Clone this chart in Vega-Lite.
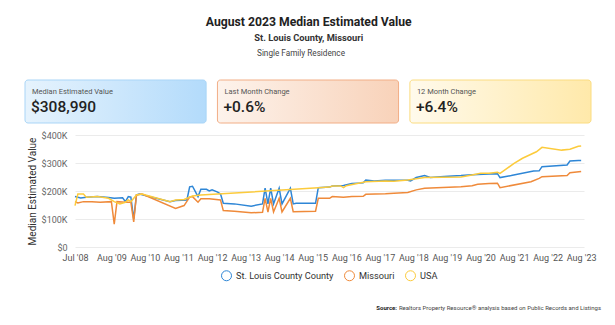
{
  "$schema": "https://vega.github.io/schema/vega-lite/v6.json",
  "background": "white",
  "padding": {"left": 24, "top": 15, "right": 8, "bottom": 4},
  "title": {
    "text": "August 2023 Median Estimated Value",
    "subtitle": "St. Louis County, Missouri",
    "fontSize": 12.2, "fontWeight": "bold", "color": "#222",
    "subtitleFontSize": 9.3, "subtitleFontWeight": "bold", "subtitleColor": "#333",
    "subtitlePadding": 6, "offset": 6, "anchor": "middle", "dx": -4
  },
  "columns": 1,
  "align": "none",
  "spacing": 7,
  "resolve": {"legend": {"color": "independent"}},
  "config": {
    "font": "Roboto",
    "view": {"stroke": null},
    "legend": {"layout": {"bottom": {"anchor": "middle"}}}
  },
  "concat": [
    {
      "width": 509, "height": 43,
      "title": {"text": "Single Family Residence", "fontSize": 8.2, "fontWeight": "normal", "color": "#444", "offset": 21, "anchor": "middle", "frame": "bounds", "dx": -7},
      "data": {"values": [
        {"card": "Median Estimated Value", "value": "$308,990"},
        {"card": "Last Month Change", "value": "+0.6%"},
        {"card": "12 Month Change", "value": "+6.4%"}
      ]},
      "encoding": {
        "x": {"field": "card", "type": "nominal", "axis": null,
              "scale": {"domain": ["Median Estimated Value", "Last Month Change", "12 Month Change"], "range": [-50, 516], "paddingInner": 0.0588, "paddingOuter": 0}}
      },
      "layer": [
        {"transform": [{"filter": "datum.card == 'Median Estimated Value'"}],
         "mark": {"type": "rect", "cornerRadius": 3, "stroke": "#a9d5f7", "strokeWidth": 1,
                  "fill": {"gradient": "linear", "x1": 0, "y1": 0, "x2": 1, "y2": 0,
                           "stops": [{"offset": 0, "color": "#e6f3fd"}, {"offset": 1, "color": "#b3dbfb"}]}}},
        {"transform": [{"filter": "datum.card == 'Last Month Change'"}],
         "mark": {"type": "rect", "cornerRadius": 3, "stroke": "#f2ae86", "strokeWidth": 1,
                  "fill": {"gradient": "linear", "x1": 0, "y1": 0, "x2": 1, "y2": 0,
                           "stops": [{"offset": 0, "color": "#fdf3ec"}, {"offset": 1, "color": "#f8d2b9"}]}}},
        {"transform": [{"filter": "datum.card == '12 Month Change'"}],
         "mark": {"type": "rect", "cornerRadius": 3, "stroke": "#fbdc80", "strokeWidth": 1,
                  "fill": {"gradient": "linear", "x1": 0, "y1": 0, "x2": 1, "y2": 0,
                           "stops": [{"offset": 0, "color": "#fffaec"}, {"offset": 1, "color": "#ffe9aa"}]}}},
        {"mark": {"type": "text", "align": "left", "baseline": "middle", "dx": 7, "dy": -9.5, "fontSize": 7.5, "color": "#555"},
         "encoding": {"x": {"field": "card", "type": "nominal", "bandPosition": 0}, "text": {"field": "card"}}},
        {"mark": {"type": "text", "align": "left", "baseline": "middle", "dx": 6, "dy": 5, "fontSize": 15.5, "fontWeight": 500, "color": "#222"},
         "encoding": {"x": {"field": "card", "type": "nominal", "bandPosition": 0}, "text": {"field": "value"}}}
      ]
    },
    {
      "width": 509, "height": 112,
      "data": {"values": [
        {"series": "St. Louis County County", "date": "2008/07/01", "value": 180000},
        {"series": "St. Louis County County", "date": "2008/09/01", "value": 175000},
        {"series": "St. Louis County County", "date": "2008/11/01", "value": 178000},
        {"series": "St. Louis County County", "date": "2009/03/01", "value": 180000},
        {"series": "St. Louis County County", "date": "2009/07/01", "value": 177000},
        {"series": "St. Louis County County", "date": "2009/09/01", "value": 174000},
        {"series": "St. Louis County County", "date": "2009/12/01", "value": 176000},
        {"series": "St. Louis County County", "date": "2010/01/01", "value": 162000},
        {"series": "St. Louis County County", "date": "2010/02/01", "value": 180000},
        {"series": "St. Louis County County", "date": "2010/03/01", "value": 178000},
        {"series": "St. Louis County County", "date": "2010/04/01", "value": 100000},
        {"series": "St. Louis County County", "date": "2010/05/01", "value": 186000},
        {"series": "St. Louis County County", "date": "2010/06/01", "value": 189000},
        {"series": "St. Louis County County", "date": "2011/05/01", "value": 162000},
        {"series": "St. Louis County County", "date": "2011/07/01", "value": 166000},
        {"series": "St. Louis County County", "date": "2011/11/01", "value": 168000},
        {"series": "St. Louis County County", "date": "2011/12/01", "value": 215000},
        {"series": "St. Louis County County", "date": "2012/01/01", "value": 217000},
        {"series": "St. Louis County County", "date": "2012/03/01", "value": 180000},
        {"series": "St. Louis County County", "date": "2012/04/01", "value": 206000},
        {"series": "St. Louis County County", "date": "2012/06/01", "value": 206000},
        {"series": "St. Louis County County", "date": "2012/07/01", "value": 200000},
        {"series": "St. Louis County County", "date": "2012/08/01", "value": 204000},
        {"series": "St. Louis County County", "date": "2012/10/01", "value": 196000},
        {"series": "St. Louis County County", "date": "2012/11/01", "value": 189000},
        {"series": "St. Louis County County", "date": "2012/12/01", "value": 156000},
        {"series": "St. Louis County County", "date": "2013/04/01", "value": 154000},
        {"series": "St. Louis County County", "date": "2013/10/01", "value": 146000},
        {"series": "St. Louis County County", "date": "2014/02/01", "value": 154000},
        {"series": "St. Louis County County", "date": "2014/03/01", "value": 210000},
        {"series": "St. Louis County County", "date": "2014/04/01", "value": 154000},
        {"series": "St. Louis County County", "date": "2014/05/01", "value": 210000},
        {"series": "St. Louis County County", "date": "2014/06/01", "value": 154000},
        {"series": "St. Louis County County", "date": "2014/08/01", "value": 210000},
        {"series": "St. Louis County County", "date": "2014/09/01", "value": 154000},
        {"series": "St. Louis County County", "date": "2014/12/01", "value": 210000},
        {"series": "St. Louis County County", "date": "2015/01/01", "value": 154000},
        {"series": "St. Louis County County", "date": "2015/02/01", "value": 156000},
        {"series": "St. Louis County County", "date": "2015/09/01", "value": 156000},
        {"series": "St. Louis County County", "date": "2015/10/01", "value": 212000},
        {"series": "St. Louis County County", "date": "2016/02/01", "value": 214000},
        {"series": "St. Louis County County", "date": "2016/03/01", "value": 218000},
        {"series": "St. Louis County County", "date": "2016/07/01", "value": 220000},
        {"series": "St. Louis County County", "date": "2016/10/01", "value": 227000},
        {"series": "St. Louis County County", "date": "2017/02/01", "value": 229000},
        {"series": "St. Louis County County", "date": "2017/03/01", "value": 239000},
        {"series": "St. Louis County County", "date": "2017/06/01", "value": 236000},
        {"series": "St. Louis County County", "date": "2017/10/01", "value": 238000},
        {"series": "St. Louis County County", "date": "2018/01/01", "value": 238000},
        {"series": "St. Louis County County", "date": "2018/06/01", "value": 238000},
        {"series": "St. Louis County County", "date": "2018/07/01", "value": 236000},
        {"series": "St. Louis County County", "date": "2018/09/01", "value": 248000},
        {"series": "St. Louis County County", "date": "2018/12/01", "value": 255000},
        {"series": "St. Louis County County", "date": "2019/02/01", "value": 248000},
        {"series": "St. Louis County County", "date": "2019/07/01", "value": 252000},
        {"series": "St. Louis County County", "date": "2020/01/01", "value": 255000},
        {"series": "St. Louis County County", "date": "2020/05/01", "value": 258000},
        {"series": "St. Louis County County", "date": "2020/11/01", "value": 261000},
        {"series": "St. Louis County County", "date": "2021/02/01", "value": 262000},
        {"series": "St. Louis County County", "date": "2021/03/01", "value": 248000},
        {"series": "St. Louis County County", "date": "2021/07/01", "value": 255000},
        {"series": "St. Louis County County", "date": "2022/03/01", "value": 271000},
        {"series": "St. Louis County County", "date": "2022/05/01", "value": 272000},
        {"series": "St. Louis County County", "date": "2022/06/01", "value": 287000},
        {"series": "St. Louis County County", "date": "2023/03/01", "value": 293000},
        {"series": "St. Louis County County", "date": "2023/04/01", "value": 307000},
        {"series": "St. Louis County County", "date": "2023/07/01", "value": 309000},
        {"series": "St. Louis County County", "date": "2023/08/01", "value": 308990},

        {"series": "Missouri", "date": "2008/07/01", "value": 162000},
        {"series": "Missouri", "date": "2008/08/01", "value": 157000},
        {"series": "Missouri", "date": "2008/10/01", "value": 162000},
        {"series": "Missouri", "date": "2009/01/01", "value": 162000},
        {"series": "Missouri", "date": "2009/04/01", "value": 160000},
        {"series": "Missouri", "date": "2009/08/01", "value": 162000},
        {"series": "Missouri", "date": "2009/09/01", "value": 82000},
        {"series": "Missouri", "date": "2009/10/01", "value": 162000},
        {"series": "Missouri", "date": "2010/01/01", "value": 160000},
        {"series": "Missouri", "date": "2010/03/01", "value": 160000},
        {"series": "Missouri", "date": "2010/04/01", "value": 90000},
        {"series": "Missouri", "date": "2010/05/01", "value": 186000},
        {"series": "Missouri", "date": "2010/07/01", "value": 189000},
        {"series": "Missouri", "date": "2011/07/01", "value": 138000},
        {"series": "Missouri", "date": "2011/10/01", "value": 148000},
        {"series": "Missouri", "date": "2011/12/01", "value": 178000},
        {"series": "Missouri", "date": "2012/01/01", "value": 180000},
        {"series": "Missouri", "date": "2012/03/01", "value": 160000},
        {"series": "Missouri", "date": "2012/04/01", "value": 172000},
        {"series": "Missouri", "date": "2012/07/01", "value": 172000},
        {"series": "Missouri", "date": "2012/11/01", "value": 168000},
        {"series": "Missouri", "date": "2012/12/01", "value": 130000},
        {"series": "Missouri", "date": "2013/04/01", "value": 128000},
        {"series": "Missouri", "date": "2013/10/01", "value": 122000},
        {"series": "Missouri", "date": "2014/02/01", "value": 124000},
        {"series": "Missouri", "date": "2014/03/01", "value": 174000},
        {"series": "Missouri", "date": "2014/04/01", "value": 125000},
        {"series": "Missouri", "date": "2014/05/01", "value": 174000},
        {"series": "Missouri", "date": "2014/06/01", "value": 125000},
        {"series": "Missouri", "date": "2014/08/01", "value": 174000},
        {"series": "Missouri", "date": "2014/09/01", "value": 125000},
        {"series": "Missouri", "date": "2014/12/01", "value": 174000},
        {"series": "Missouri", "date": "2015/01/01", "value": 126000},
        {"series": "Missouri", "date": "2015/09/01", "value": 128000},
        {"series": "Missouri", "date": "2015/10/01", "value": 174000},
        {"series": "Missouri", "date": "2016/02/01", "value": 174000},
        {"series": "Missouri", "date": "2016/03/01", "value": 180000},
        {"series": "Missouri", "date": "2016/07/01", "value": 178000},
        {"series": "Missouri", "date": "2016/10/01", "value": 180000},
        {"series": "Missouri", "date": "2017/02/01", "value": 181000},
        {"series": "Missouri", "date": "2017/03/01", "value": 188000},
        {"series": "Missouri", "date": "2017/10/01", "value": 190000},
        {"series": "Missouri", "date": "2018/01/01", "value": 192000},
        {"series": "Missouri", "date": "2018/06/01", "value": 195000},
        {"series": "Missouri", "date": "2018/09/01", "value": 204000},
        {"series": "Missouri", "date": "2018/12/01", "value": 210000},
        {"series": "Missouri", "date": "2020/01/01", "value": 215000},
        {"series": "Missouri", "date": "2020/05/01", "value": 219000},
        {"series": "Missouri", "date": "2020/07/01", "value": 224000},
        {"series": "Missouri", "date": "2020/11/01", "value": 227000},
        {"series": "Missouri", "date": "2021/02/01", "value": 228000},
        {"series": "Missouri", "date": "2021/03/01", "value": 212000},
        {"series": "Missouri", "date": "2022/02/01", "value": 233000},
        {"series": "Missouri", "date": "2022/05/01", "value": 245000},
        {"series": "Missouri", "date": "2022/06/01", "value": 251000},
        {"series": "Missouri", "date": "2023/03/01", "value": 255000},
        {"series": "Missouri", "date": "2023/04/01", "value": 265000},
        {"series": "Missouri", "date": "2023/08/01", "value": 270000},

        {"series": "USA", "date": "2008/07/01", "value": 148000},
        {"series": "USA", "date": "2008/08/01", "value": 189000},
        {"series": "USA", "date": "2008/10/01", "value": 189000},
        {"series": "USA", "date": "2008/11/01", "value": 178000},
        {"series": "USA", "date": "2009/03/01", "value": 180000},
        {"series": "USA", "date": "2009/07/01", "value": 174000},
        {"series": "USA", "date": "2009/09/01", "value": 162000},
        {"series": "USA", "date": "2009/11/01", "value": 154000},
        {"series": "USA", "date": "2010/01/01", "value": 160000},
        {"series": "USA", "date": "2010/02/01", "value": 168000},
        {"series": "USA", "date": "2010/03/01", "value": 162000},
        {"series": "USA", "date": "2010/05/01", "value": 186000},
        {"series": "USA", "date": "2010/07/01", "value": 189000},
        {"series": "USA", "date": "2011/05/01", "value": 162000},
        {"series": "USA", "date": "2011/07/01", "value": 168000},
        {"series": "USA", "date": "2011/10/01", "value": 170000},
        {"series": "USA", "date": "2012/01/01", "value": 182000},
        {"series": "USA", "date": "2012/04/01", "value": 186000},
        {"series": "USA", "date": "2012/10/01", "value": 189000},
        {"series": "USA", "date": "2015/10/01", "value": 212000},
        {"series": "USA", "date": "2016/02/01", "value": 214000},
        {"series": "USA", "date": "2016/03/01", "value": 218000},
        {"series": "USA", "date": "2016/06/01", "value": 218000},
        {"series": "USA", "date": "2016/07/01", "value": 212000},
        {"series": "USA", "date": "2016/08/01", "value": 219000},
        {"series": "USA", "date": "2017/03/01", "value": 233000},
        {"series": "USA", "date": "2017/10/01", "value": 236000},
        {"series": "USA", "date": "2018/01/01", "value": 235000},
        {"series": "USA", "date": "2018/06/01", "value": 239000},
        {"series": "USA", "date": "2018/12/01", "value": 248000},
        {"series": "USA", "date": "2020/01/01", "value": 250000},
        {"series": "USA", "date": "2020/05/01", "value": 257000},
        {"series": "USA", "date": "2020/08/01", "value": 263000},
        {"series": "USA", "date": "2020/11/01", "value": 263000},
        {"series": "USA", "date": "2021/02/01", "value": 267000},
        {"series": "USA", "date": "2021/03/01", "value": 263000},
        {"series": "USA", "date": "2021/05/01", "value": 277000},
        {"series": "USA", "date": "2021/08/01", "value": 299000},
        {"series": "USA", "date": "2021/11/01", "value": 317000},
        {"series": "USA", "date": "2022/04/01", "value": 340000},
        {"series": "USA", "date": "2022/06/01", "value": 356000},
        {"series": "USA", "date": "2023/01/01", "value": 346000},
        {"series": "USA", "date": "2023/04/01", "value": 349000},
        {"series": "USA", "date": "2023/07/01", "value": 360000},
        {"series": "USA", "date": "2023/08/01", "value": 361000}
      ]},
      "mark": {"type": "line", "strokeWidth": 1.5},
      "encoding": {
        "x": {"field": "date", "type": "temporal",
              "scale": {"domain": [{"year": 2008, "month": 7, "date": 1}, {"year": 2023, "month": 9, "date": 1}]},
              "axis": {"title": null, "format": "%b '%y", "grid": false, "domain": false, "ticks": false,
                       "labelFontSize": 9, "labelColor": "#555", "labelPadding": 6, "labelOverlap": false, "labelFlush": false,
                       "values": [
                         {"year": 2008, "month": 7, "date": 1}, {"year": 2009, "month": 8, "date": 1},
                         {"year": 2010, "month": 8, "date": 1}, {"year": 2011, "month": 8, "date": 1},
                         {"year": 2012, "month": 8, "date": 1}, {"year": 2013, "month": 8, "date": 1},
                         {"year": 2014, "month": 8, "date": 1}, {"year": 2015, "month": 8, "date": 1},
                         {"year": 2016, "month": 8, "date": 1}, {"year": 2017, "month": 8, "date": 1},
                         {"year": 2018, "month": 8, "date": 1}, {"year": 2019, "month": 8, "date": 1},
                         {"year": 2020, "month": 8, "date": 1}, {"year": 2021, "month": 8, "date": 1},
                         {"year": 2022, "month": 8, "date": 1}, {"year": 2023, "month": 8, "date": 1}
                       ]}},
        "y": {"field": "value", "type": "quantitative",
              "scale": {"domain": [0, 400000], "nice": false},
              "axis": {"values": [0, 100000, 200000, 300000, 400000],
                       "labelExpr": "datum.value == 0 ? '$0' : '$' + (datum.value / 1000) + 'K'",
                       "title": "Median Estimated Value", "titleFontSize": 10, "titleFontWeight": "normal", "titleColor": "#333",
                       "titlePadding": 4, "labelFontSize": 9, "labelColor": "#666", "labelPadding": 8,
                       "ticks": false, "domain": false, "gridColor": "#ebebeb"}},
        "color": {"field": "series", "type": "nominal",
                  "scale": {"domain": ["St. Louis County County", "Missouri", "USA"], "range": ["#2e86d6", "#ef8a3a", "#fccb3c"]},
                  "legend": {"orient": "bottom", "title": null, "symbolType": "circle", "symbolSize": 100, "symbolStrokeWidth": 1,
                             "symbolFillColor": "white", "labelFontSize": 9.2, "labelColor": "#333", "offset": 8, "columnPadding": 8}}
      }
    },
    {
      "width": 526, "height": 36,
      "data": {"values": [{"label": "Source:", "text": "Realtors Property Resource® analysis based on Public Records and Listings"}]},
      "layer": [
        {"mark": {"type": "text", "align": "right", "baseline": "middle", "fontSize": 6, "color": "#444"},
         "encoding": {"x": {"datum": 1, "type": "quantitative", "scale": {"domain": [0, 1]}, "axis": null}, "text": {"field": "text"}}},
        {"mark": {"type": "text", "align": "right", "baseline": "middle", "fontSize": 6, "fontWeight": "bold", "color": "#222", "dx": -204},
         "encoding": {"x": {"datum": 1, "type": "quantitative", "scale": {"domain": [0, 1]}, "axis": null}, "text": {"field": "label"}}}
      ]
    }
  ]
}
